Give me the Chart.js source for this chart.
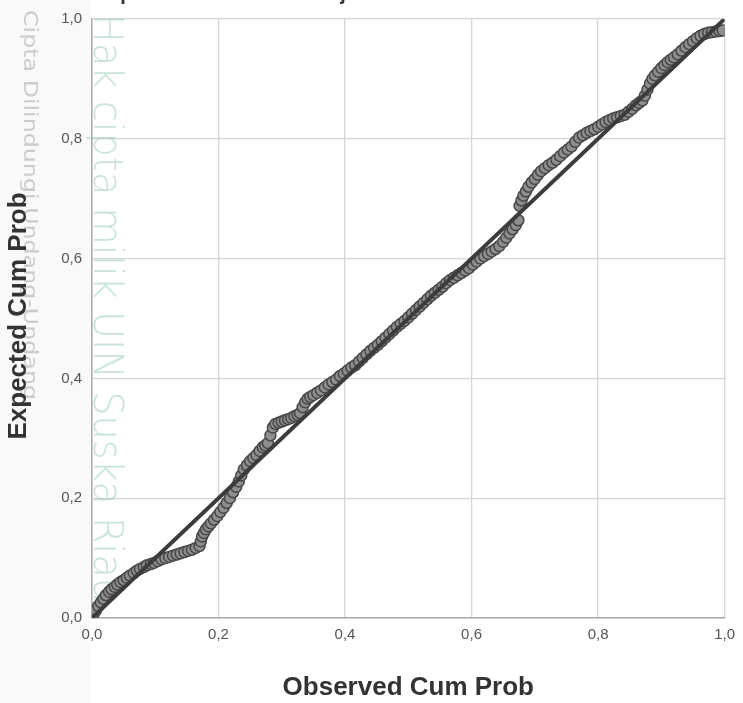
<!DOCTYPE html>
<html>
<head>
<meta charset="utf-8">
<script src="https://cdn.jsdelivr.net/npm/chart.js@4.4.1/dist/chart.umd.min.js"></script>
<style>
  html, body { margin: 0; padding: 0; background: #ffffff; }
  #wrap { width: 743px; height: 703px; position: relative; }
</style>
</head>
<body>
<div id="wrap"><canvas id="ppChart" width="743" height="703"></canvas></div>
<script>
// P-P plot values (observed vs expected cumulative probability)
const observedCum = [
  0.002, 0.006, 0.01, 0.014, 0.018, 0.022, 0.027, 0.031, 0.036, 0.04, 0.045, 0.05, 0.055, 0.06, 0.066,
  0.071, 0.076, 0.082, 0.087, 0.093, 0.098, 0.104, 0.11, 0.116, 0.122, 0.128, 0.134, 0.14, 0.146, 0.152,
  0.158, 0.164, 0.17,
  0.172, 0.174, 0.177, 0.18, 0.184, 0.188, 0.193, 0.198, 0.203, 0.208, 0.213, 0.218, 0.223, 0.228, 0.232,
  0.236, 0.24,
  0.245, 0.25, 0.255, 0.26, 0.265, 0.27, 0.274, 0.278, 0.282, 0.286, 0.29,
  0.295, 0.3, 0.305, 0.31, 0.315, 0.32, 0.325, 0.329, 0.333, 0.337, 0.341, 0.345,
  0.35, 0.356, 0.362, 0.368, 0.374, 0.38, 0.386, 0.392, 0.398, 0.404, 0.41, 0.416, 0.422, 0.428, 0.434,
  0.44, 0.446, 0.452, 0.458, 0.464, 0.47, 0.476, 0.482, 0.488, 0.494, 0.5, 0.506, 0.512, 0.518, 0.524,
  0.53, 0.536, 0.542, 0.548, 0.554, 0.56,
  0.566, 0.572, 0.578, 0.584, 0.59, 0.596, 0.602, 0.608, 0.614, 0.62, 0.626, 0.632, 0.638, 0.644, 0.65,
  0.655, 0.66, 0.665, 0.67, 0.674,
  0.676, 0.679, 0.682, 0.686, 0.69, 0.695, 0.7, 0.705, 0.71, 0.716, 0.722, 0.728, 0.734, 0.74, 0.746,
  0.752, 0.758, 0.764, 0.77, 0.776, 0.782, 0.788, 0.794, 0.8,
  0.806, 0.812, 0.818, 0.824, 0.83, 0.836, 0.842, 0.848, 0.854, 0.86, 0.865, 0.87, 0.874, 0.878, 0.882,
  0.886, 0.89, 0.895, 0.9, 0.905, 0.91, 0.915, 0.92, 0.926, 0.932, 0.938, 0.944, 0.95, 0.956, 0.962,
  0.968, 0.974, 0.98, 0.986, 0.992, 0.997
];
const expectedCum = [
  0.006, 0.012, 0.02, 0.026, 0.032, 0.038, 0.044, 0.048, 0.052, 0.056, 0.06, 0.063, 0.067, 0.071, 0.075,
  0.079, 0.082, 0.085, 0.088, 0.09, 0.092, 0.095, 0.098, 0.1, 0.102, 0.104, 0.106, 0.108, 0.11, 0.112,
  0.114, 0.117, 0.12,
  0.128, 0.136, 0.142, 0.148, 0.153, 0.158, 0.164, 0.17, 0.177, 0.184, 0.192, 0.2, 0.21, 0.219, 0.228,
  0.238, 0.248,
  0.255, 0.262, 0.267, 0.272, 0.279, 0.285, 0.288, 0.292, 0.305, 0.318, 0.324,
  0.326, 0.328, 0.33, 0.332, 0.334, 0.337, 0.339, 0.342, 0.352, 0.36, 0.366, 0.369,
  0.372, 0.376, 0.38, 0.385, 0.39, 0.394, 0.398, 0.404, 0.408, 0.413, 0.418, 0.422, 0.428, 0.434, 0.44,
  0.446, 0.451, 0.456, 0.462, 0.468, 0.474, 0.48, 0.486, 0.491, 0.496, 0.502, 0.508, 0.514, 0.52, 0.526,
  0.532, 0.538, 0.543, 0.548, 0.553, 0.559,
  0.564, 0.568, 0.572, 0.576, 0.58, 0.584, 0.59, 0.595, 0.6, 0.604, 0.608, 0.612, 0.616, 0.621, 0.628,
  0.635, 0.642, 0.649, 0.656, 0.664,
  0.688, 0.697, 0.705, 0.712, 0.72, 0.727, 0.733, 0.74, 0.746, 0.751, 0.756, 0.76, 0.765, 0.771, 0.777,
  0.782, 0.787, 0.795, 0.802, 0.806, 0.81, 0.813, 0.816, 0.82,
  0.824, 0.828, 0.831, 0.834, 0.836, 0.838, 0.84, 0.845, 0.85, 0.856, 0.86, 0.864, 0.872, 0.882, 0.892,
  0.9, 0.906, 0.912, 0.918, 0.923, 0.928, 0.932, 0.936, 0.941, 0.947, 0.953, 0.958, 0.963, 0.968, 0.972,
  0.975, 0.977, 0.978, 0.979, 0.98, 0.981
];
const diagLine = [0, 1];
const tickValues = [0, 0.2, 0.4, 0.6, 0.8, 1.0];
const tickLabels = ['0,0', '0,2', '0,4', '0,6', '0,8', '1,0'];

const titleText = 'Dependent Variable: Kesejahteraan';
const xTitle = 'Observed Cum Prob';
const yTitle = 'Expected Cum Prob';
const markText = 'Hak cipta milik UIN Suska Riau';
const sideText = 'Cipta Dilindungi Undang-Undang';

const points = observedCum.map((x, i) => ({ x: x, y: expectedCum[i] }));
const linePts = diagLine.map(v => ({ x: v, y: v }));

function fmtTick(v) {
  const i = tickValues.findIndex(t => Math.abs(t - v) < 1e-6);
  return i >= 0 ? tickLabels[i] : '';
}

// vertical text stretched to a given length
function vText(ctx, txt, x, y, len, font, color) {
  ctx.save();
  ctx.font = font;
  ctx.fillStyle = color;
  ctx.textBaseline = 'middle';
  ctx.translate(x, y);
  ctx.rotate(Math.PI / 2);
  const w = ctx.measureText(txt).width;
  ctx.scale(len / w, 1);
  ctx.fillText(txt, 0, 0);
  ctx.restore();
}

const overlay = {
  id: 'overlay',
  beforeDraw(chart) {
    const ctx = chart.ctx;
    ctx.save();
    ctx.fillStyle = '#f9f9f9';
    ctx.fillRect(0, 0, 90, 703);
    ctx.restore();
  },
  beforeDatasetsDraw(chart) {
    const ctx = chart.ctx;
    vText(ctx, markText, 104, 14, 588, '200 40px "DejaVu Sans"', 'rgba(130, 195, 165, 0.45)');
    vText(ctx, sideText, 29, 10, 390, '19px "DejaVu Sans"', 'rgba(160, 160, 160, 0.5)');
  },
  afterDraw(chart) {
    const ctx = chart.ctx;
    const area = chart.chartArea;
    ctx.save();
    ctx.fillStyle = '#333333';
    ctx.textAlign = 'center';
    ctx.font = 'bold 20px "Liberation Sans", Arial, sans-serif';
    ctx.textBaseline = 'alphabetic';
    ctx.fillText(titleText, 262, 0);
    ctx.font = 'bold 26px "Liberation Sans", Arial, sans-serif';
    ctx.textBaseline = 'middle';
    ctx.fillText(xTitle, (area.left + area.right) / 2, 688);
    ctx.translate(19, 316);
    ctx.rotate(-Math.PI / 2);
    ctx.fillText(yTitle, 0, 0);
    ctx.restore();
  }
};

const ctx = document.getElementById('ppChart').getContext('2d');
new Chart(ctx, {
  type: 'scatter',
  data: {
    datasets: [{
      type: 'line',
      data: linePts,
      borderColor: '#3c3c3c',
      borderWidth: 4,
      pointRadius: 0,
      fill: false,
      order: 0
    }, {
      data: points,
      backgroundColor: '#8e8e8e',
      borderColor: '#474747',
      borderWidth: 1.5,
      pointRadius: 5.5,
      order: 1
    }]
  },
  options: {
    responsive: false,
    animation: false,
    layout: { padding: { left: 0, right: 16, top: 12, bottom: 0 } },
    plugins: {
      legend: { display: false },
      tooltip: { enabled: false }
    },
    scales: {
      x: {
        type: 'linear',
        min: 0, max: 1,
        afterBuildTicks(scale) { scale.ticks = tickValues.map(v => ({ value: v })); },
        afterFit(scale) { scale.height = 85; },
        grid: { color: '#d6d6d6', lineWidth: 1.3, tickLength: 0, drawTicks: false },
        border: { color: '#aaaaaa', width: 1.5 },
        ticks: {
          padding: 8,
          color: '#555555',
          font: { family: '"Liberation Sans", Arial, sans-serif', size: 15 },
          callback: v => fmtTick(v)
        }
      },
      y: {
        type: 'linear',
        min: 0, max: 1,
        afterBuildTicks(scale) { scale.ticks = tickValues.map(v => ({ value: v })); },
        afterFit(scale) { scale.width = 92; },
        grid: { color: '#d6d6d6', lineWidth: 1.3, tickLength: 0, drawTicks: false },
        border: { color: '#aaaaaa', width: 1.5 },
        ticks: {
          padding: 10,
          color: '#555555',
          font: { family: '"Liberation Sans", Arial, sans-serif', size: 15 },
          callback: v => fmtTick(v)
        }
      }
    }
  },
  plugins: [overlay]
});
</script>
</body>
</html>
